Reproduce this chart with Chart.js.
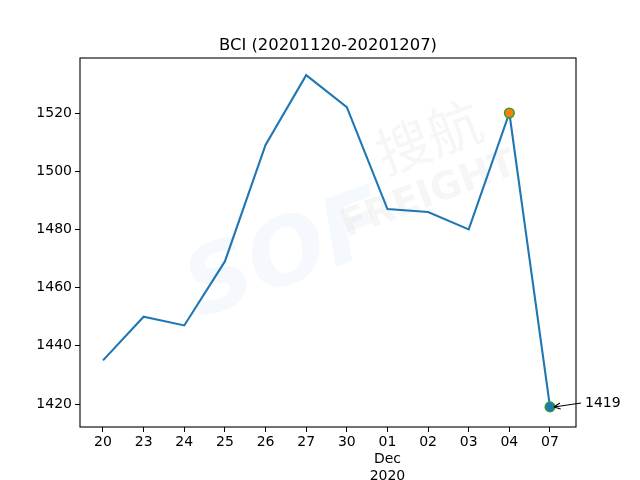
<!DOCTYPE html>
<html>
<head>
<meta charset="utf-8">
<script src="https://cdn.jsdelivr.net/npm/chart.js@4/dist/chart.umd.min.js"></script>
<style>
  html, body { margin: 0; padding: 0; background: #fff; }
  canvas { display: block; }
</style>
</head>
<body>
<canvas id="bci" width="640" height="480"></canvas>
<script>
// BCI daily index, 20 Nov - 07 Dec 2020
const dayLabels = ['20', '23', '24', '25', '26', '27', '30', ['01', 'Dec', '2020'], '02', '03', '04', '07'];
const bciValues = [1435, 1450, 1447, 1469, 1509, 1533, 1522, 1487, 1486, 1480, 1520, 1419];
const yTicks = [1420, 1440, 1460, 1480, 1500, 1520];
const titleText = 'BCI (20201120-20201207)';
const lastLabel = '1419';

const FONT = '"DejaVu Sans", sans-serif';
const BLUE = '#1f77b4';

// points: only the peak (04) and last (07) get markers
const pointFill = bciValues.map((v, i) => i === 10 ? '#ff7f0e' : BLUE);
const pointRadius = bciValues.map((v, i) => (i === 10 || i === 11) ? 4.8 : 0);

// faint watermark, title, frame and the arrow note
const extras = {
  id: 'extras',
  beforeDatasetsDraw(chart) {
    const c = chart.ctx;
    c.save();
    c.translate(335, 215);
    c.rotate(-0.36);
    c.font = 'italic bold 92px ' + FONT;
    c.fillStyle = 'rgba(215,232,247,0.25)';
    c.textAlign = 'center';
    c.textBaseline = 'middle';
    c.fillText('SOF', -60, 25);
    c.font = '54px "Noto Sans CJK SC", sans-serif';
    c.fillStyle = 'rgba(225,225,225,0.3)';
    c.fillText('搜航', 115, -40);
    c.font = 'bold 38px ' + FONT;
    c.fillText('FREIGHT', 95, 15);
    c.restore();
  },
  afterDraw(chart) {
    const c = chart.ctx;
    const a = chart.chartArea;
    c.save();
    c.strokeStyle = '#000';
    c.lineWidth = 1.1;
    c.strokeRect(a.left, a.top, a.right - a.left, a.bottom - a.top);

    c.fillStyle = '#000';
    c.font = '16.4px ' + FONT;
    c.textAlign = 'center';
    c.textBaseline = 'alphabetic';
    c.fillText(titleText, (a.left + a.right) / 2, 50);

    // arrow from label to last point
    const px = chart.scales.x.getPixelForValue(11);
    const py = chart.scales.y.getPixelForValue(bciValues[11]);
    const tx = px + 33, ty = py - 4;
    const ex = px + 4, ey = py;
    c.lineWidth = 1.1;
    c.beginPath();
    c.moveTo(tx - 2, ty);
    c.lineTo(ex, ey);
    c.stroke();
    const ang = Math.atan2(ey - ty, ex - tx);
    c.beginPath();
    c.moveTo(ex, ey);
    c.lineTo(ex - 7 * Math.cos(ang - 0.45), ey - 7 * Math.sin(ang - 0.45));
    c.moveTo(ex, ey);
    c.lineTo(ex - 7 * Math.cos(ang + 0.45), ey - 7 * Math.sin(ang + 0.45));
    c.stroke();
    c.font = '14px ' + FONT;
    c.textAlign = 'left';
    c.textBaseline = 'middle';
    c.fillText(lastLabel, tx + 2, ty);
    c.restore();
  }
};

new Chart(document.getElementById('bci'), {
  type: 'line',
  data: {
    labels: dayLabels,
    datasets: [{
      data: bciValues.map((v, i) => ({ x: i, y: v })),
      borderColor: BLUE,
      borderWidth: 2.1,
      tension: 0,
      pointRadius: pointRadius,
      pointHoverRadius: pointRadius,
      pointBackgroundColor: pointFill,
      pointBorderColor: '#2ca02c',
      pointBorderWidth: 1.5
    }]
  },
  options: {
    responsive: false,
    animation: false,
    events: [],
    layout: { padding: { top: 58, right: 64, left: 0, bottom: 0 } },
    plugins: { legend: { display: false }, title: { display: false }, tooltip: { enabled: false } },
    scales: {
      x: {
        type: 'linear',
        min: -0.566,
        max: 11.64,
        afterBuildTicks: s => { s.ticks = dayLabels.map((l, i) => ({ value: i })); },
        afterFit: s => { s.height = 53; },
        grid: { drawOnChartArea: false, tickLength: 5, tickColor: '#000', tickWidth: 1 },
        border: { display: false },
        ticks: {
          autoSkip: false,
          maxRotation: 0,
          padding: 2,
          color: '#000',
          font: { family: FONT, size: 14, lineHeight: 1.2 },
          callback: v => dayLabels[v]
        }
      },
      y: {
        min: 1412.1,
        max: 1538.9,
        afterBuildTicks: s => { s.ticks = yTicks.map(v => ({ value: v })); },
        afterFit: s => { s.width = 80; },
        grid: { drawOnChartArea: false, tickLength: 5, tickColor: '#000', tickWidth: 1 },
        border: { display: false },
        ticks: {
          autoSkip: false,
          padding: 3,
          color: '#000',
          font: { family: FONT, size: 14 },
          callback: v => String(v)
        }
      }
    }
  },
  plugins: [extras]
});
</script>
</body>
</html>
